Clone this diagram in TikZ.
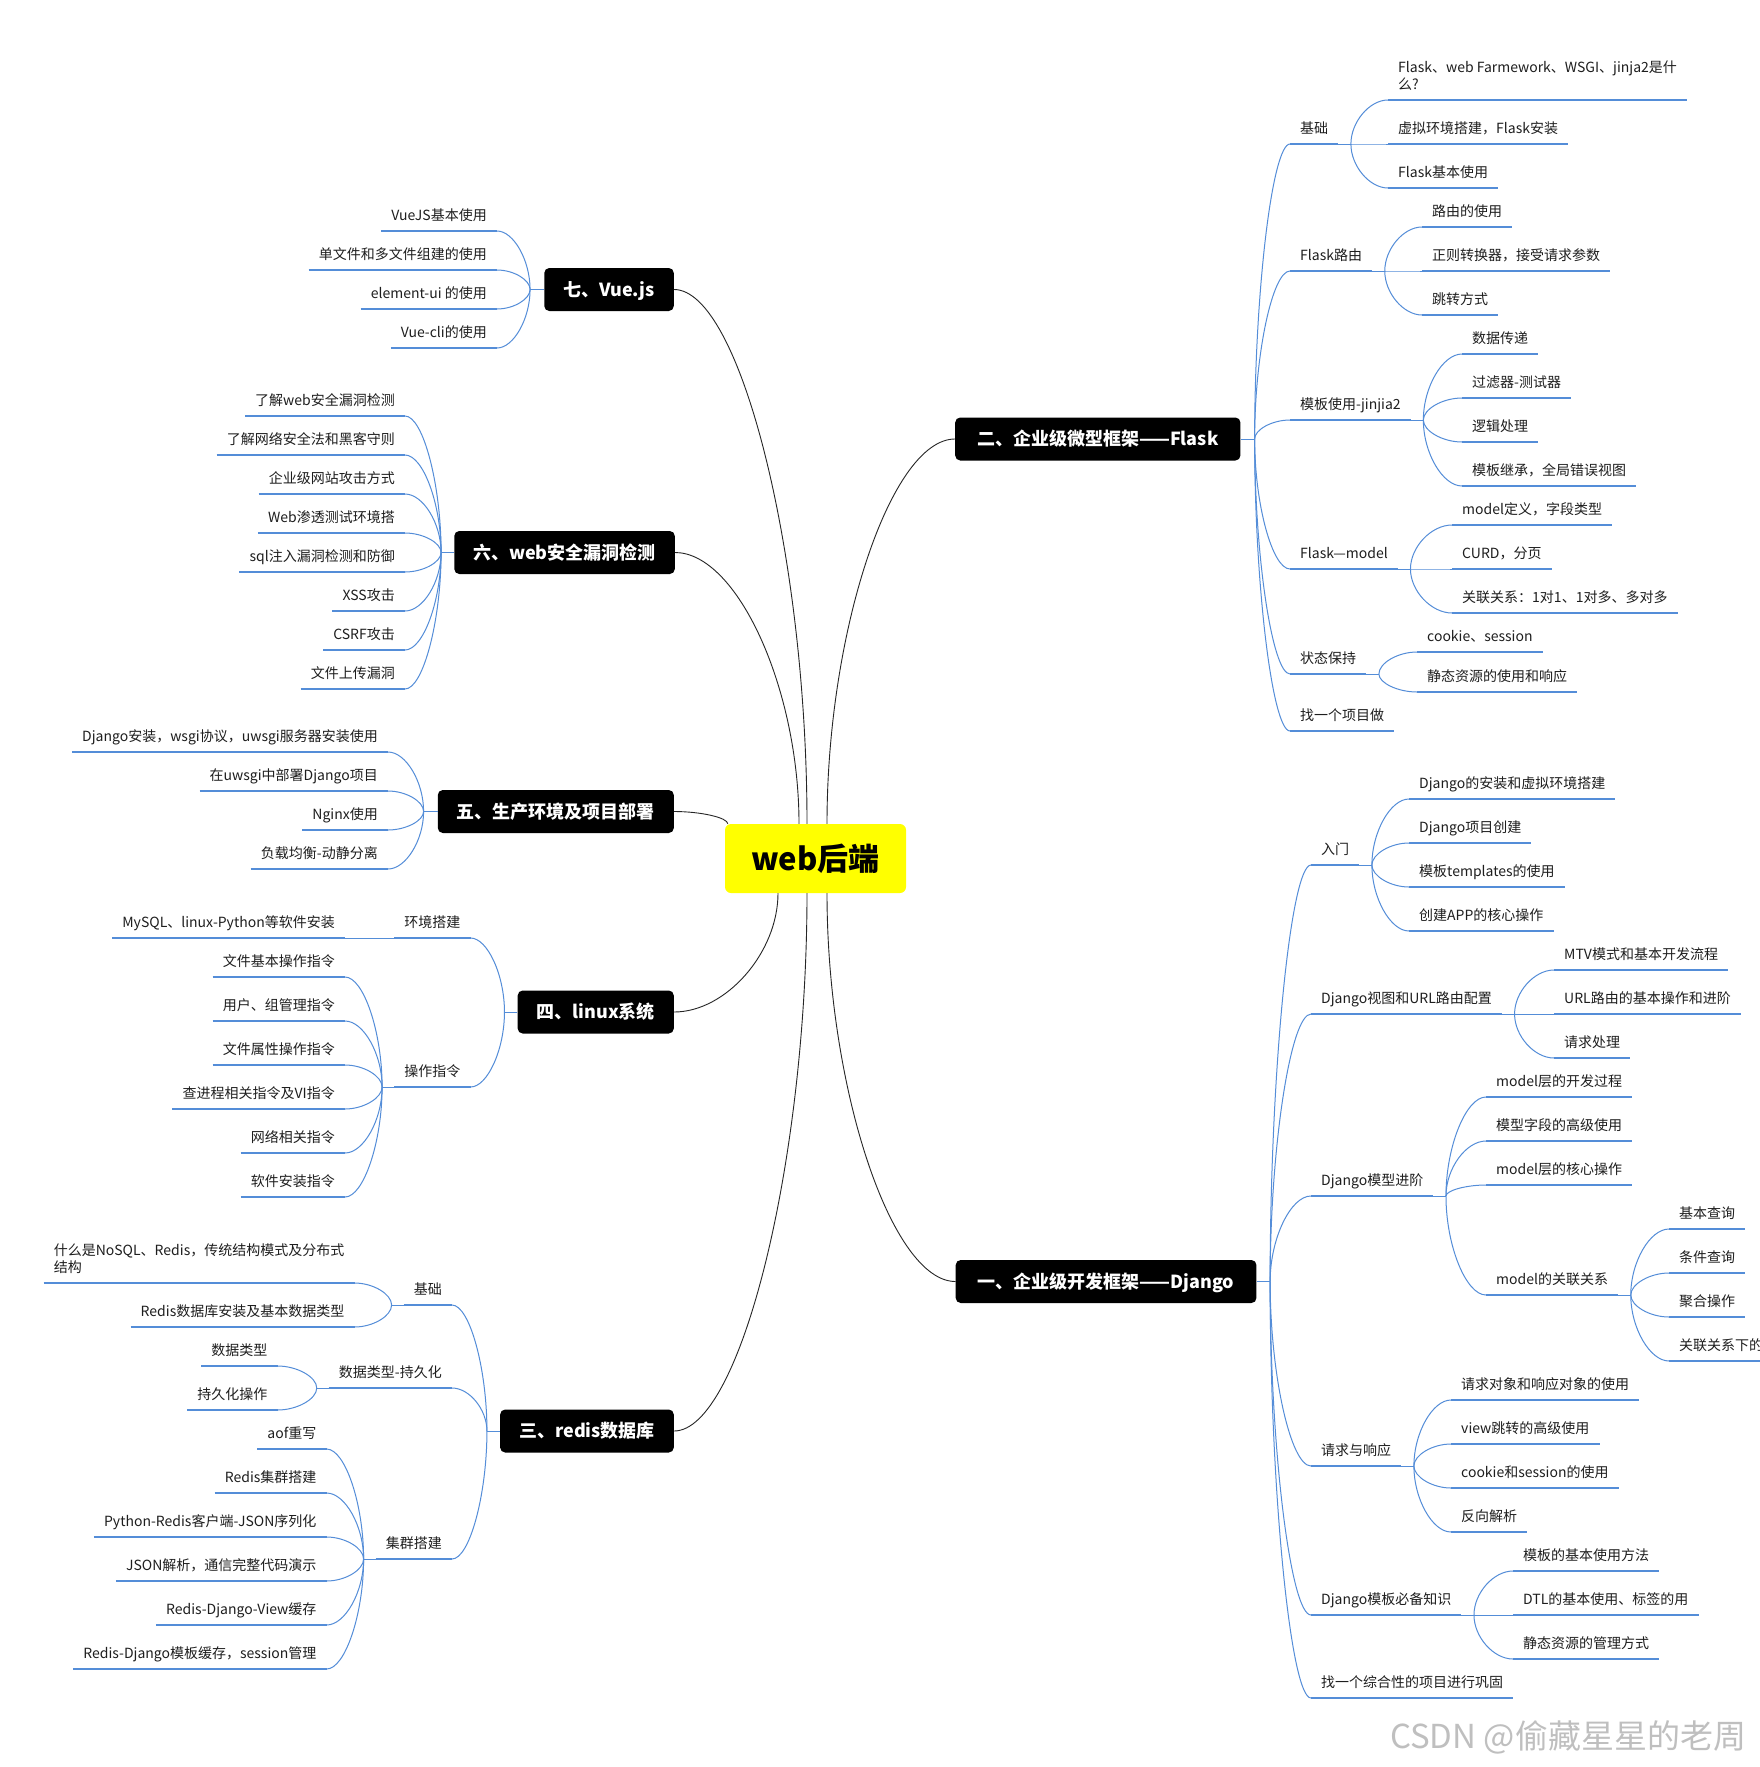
\documentclass[tikz,border=0pt]{standalone}
\usepackage{fontspec}
\setmainfont{Noto Sans CJK SC}
\usetikzlibrary{calc}
\definecolor{linkblue}{RGB}{84,141,216}
\definecolor{hubyellow}{RGB}{255,255,0}
\definecolor{inkgray}{RGB}{30,30,30}

\begin{document}
\begin{tikzpicture}[
    x=1pt, y=-1pt,
    hub/.style={fill=hubyellow, rounded corners=6pt, minimum width=181pt, minimum height=69pt, font=\fontsize{31}{36}\selectfont\bfseries, text height=24pt, text depth=0.5pt},
    main/.style={fill=black, text=white, rounded corners=5pt, minimum height=43pt, inner xsep=19pt, font=\fontsize{18}{21}\selectfont\bfseries, text height=14pt, text depth=0.5pt},
    mainwide/.style={main, inner xsep=22pt},
    uline/.style={draw=linkblue, line width=2.6pt},
    leaf/.style={font=\fontsize{14}{17}\selectfont, text=inkgray, inner xsep=10pt, inner ysep=7.5pt, text height=11pt, text depth=3pt, append after command={(\tikzlastnode.south west) edge[uline] (\tikzlastnode.south east)}},
    leafR/.style={leaf, anchor=south west},
    leafL/.style={leaf, anchor=south east},
    limb/.style={to path={.. controls ($(\tikztostart)!0.5!(\tikztostart|-\tikztotarget)$) and ($(\tikztostart|-\tikztotarget)!0.5!(\tikztotarget)$) .. (\tikztotarget)}},
    twig/.style={draw=linkblue, line width=1pt, limb},
    trunk/.style={draw=black!85, line width=0.9pt, limb},
    wmark/.style={text=black!25, font=\fontsize{33}{38}\selectfont}
]
\path[use as bounding box, fill=white] (0,0) rectangle (1760,1767);

\node[hub] (web) at (815.5,858.5) {web后端};

\node[mainwide, anchor=west] (flask) at (955,439) {二、企业级微型框架——Flask};
\node[mainwide, anchor=west] (django) at (955.5,1281.5) {一、企业级开发框架——Django};
\node[main, anchor=east] (vue) at (674,289.5) {七、Vue.js};
\node[main, anchor=east] (sec) at (675,552.5) {六、web安全漏洞检测};
\node[main, anchor=east] (dep) at (674,811.5) {五、生产环境及项目部署};
\node[main, anchor=east] (lnx) at (674,1012) {四、linux系统};
\node[main, anchor=east] (rds) at (674,1431) {三、redis数据库};

\coordinate (hT1) at ([xshift=11.5pt]web.north);
\coordinate (hT2) at ([xshift=-8.5pt]web.north);
\coordinate (hT3) at ([xshift=-16.5pt]web.north);
\coordinate (hT4) at ([xshift=3pt]web.north west);
\coordinate (hB1) at ([xshift=11.5pt]web.south);
\coordinate (hB2) at ([xshift=-8.5pt]web.south);
\coordinate (hB3) at ([xshift=-37.5pt]web.south);

\draw[trunk] (hT1) to (flask.west);
\draw[trunk] (hB1) to (django.west);
\draw[trunk] (hT2) to (vue.east);
\draw[trunk] (hT3) to (sec.east);
\draw[trunk] (hT4) to (dep.east);
\draw[trunk] (hB3) to (lnx.east);
\draw[trunk] (hB2) to (rds.east);

\coordinate (flT) at ([xshift=14pt]flask.east);
\draw[twig] (flask.east) -- (flT);
\foreach \y/\t [count=\i] in {144/基础, 271/Flask路由, 420/模板使用-jinjia2, 569/Flask—model, 674/状态保持, 731/找一个项目做}
  \node[leafR] (f\i) at (1290,\y) {\t};
\foreach \i in {1,...,6} \draw[twig] (flT) to (f\i.south west);

\node[leafR, align=left] (f11) at (1388,100) {Flask、web Farmework、WSGI、jinja2是什\\么?};
\foreach \y/\t [count=\i from 2] in {144/虚拟环境搭建，Flask安装, 188/Flask基本使用}
  \node[leafR] (f1\i) at (1388,\y) {\t};
\foreach \y/\t [count=\i] in {227/路由的使用, 271/正则转换器，接受请求参数, 315/跳转方式}
  \node[leafR] (f2\i) at (1422,\y) {\t};
\foreach \y/\t [count=\i] in {354/数据传递, 398/过滤器-测试器, 442/逻辑处理, 486/模板继承，全局错误视图}
  \node[leafR] (f3\i) at (1462,\y) {\t};
\foreach \y/\t [count=\i] in {525/model定义，字段类型, 569/CURD，分页, 613/关联关系：1对1、1对多、多对多}
  \node[leafR] (f4\i) at (1452,\y) {\t};
\foreach \y/\t [count=\i] in {652/cookie、session, 692/静态资源的使用和响应}
  \node[leafR] (f5\i) at (1417,\y) {\t};

\foreach \g/\n in {1/3, 2/3, 3/4, 4/3, 5/2} {
  \coordinate (f\g T) at ([xshift=12.5pt]f\g.south east);
  \draw[twig] (f\g.south east) -- (f\g T);
  \foreach \i in {1,...,\n} \draw[twig] (f\g T) to (f\g\i.south west);
}

\coordinate (djT) at ([xshift=13.5pt]django.east);
\draw[twig] (django.east) -- (djT);
\foreach \y/\t [count=\i] in {865/入门, 1014/Django视图和URL路由配置, 1196/Django模型进阶, 1466/请求与响应, 1615/Django模板必备知识, 1698/找一个综合性的项目进行巩固}
  \node[leafR] (d\i) at (1311,\y) {\t};
\foreach \i in {1,...,6} \draw[twig] (djT) to (d\i.south west);

\foreach \y/\t [count=\i] in {799/Django的安装和虚拟环境搭建, 843/Django项目创建, 887/模板templates的使用, 931/创建APP的核心操作}
  \node[leafR] (d1\i) at (1409,\y) {\t};
\foreach \y/\t [count=\i] in {970/MTV模式和基本开发流程, 1014/URL路由的基本操作和进阶, 1058/请求处理}
  \node[leafR] (d2\i) at (1554,\y) {\t};
\foreach \y/\t [count=\i] in {1097/model层的开发过程, 1141/模型字段的高级使用, 1185/model层的核心操作, 1295/model的关联关系}
  \node[leafR] (d3\i) at (1486,\y) {\t};
\foreach \y/\t [count=\i] in {1229/基本查询, 1273/条件查询, 1317/聚合操作, 1361/关联关系下的}
  \node[leafR] (d34\i) at (1669,\y) {\t};
\foreach \y/\t [count=\i] in {1400/请求对象和响应对象的使用, 1444/view跳转的高级使用, 1488/cookie和session的使用, 1532/反向解析}
  \node[leafR] (d4\i) at (1451,\y) {\t};
\foreach \y/\t [count=\i] in {1571/模板的基本使用方法, 1615/DTL的基本使用、标签的用, 1659/静态资源的管理方式}
  \node[leafR] (d5\i) at (1513,\y) {\t};

\foreach \g/\n in {1/4, 2/3, 3/4, 34/4, 4/4, 5/3} {
  \coordinate (d\g T) at ([xshift=12.5pt]d\g.south east);
  \draw[twig] (d\g.south east) -- (d\g T);
  \foreach \i in {1,...,\n} \draw[twig] (d\g T) to (d\g\i.south west);
}

\coordinate (vuT) at ([xshift=-14pt]vue.west);
\draw[twig] (vue.west) -- (vuT);
\foreach \y/\t [count=\i] in {231/VueJS基本使用, 270/单文件和多文件组建的使用, 309/element-ui 的使用, 348/Vue-cli的使用}
  \node[leafL] (v\i) at (497,\y) {\t};
\foreach \i in {1,...,4} \draw[twig] (vuT) to (v\i.south east);

\coordinate (seT) at ([xshift=-13pt]sec.west);
\draw[twig] (sec.west) -- (seT);
\foreach \y/\t [count=\i] in {416/了解web安全漏洞检测, 455/了解网络安全法和黑客守则, 494/企业级网站攻击方式, 533/Web渗透测试环境搭, 572/sql注入漏洞检测和防御, 611/XSS攻击, 650/CSRF攻击, 689/文件上传漏洞}
  \node[leafL] (s\i) at (405,\y) {\t};
\foreach \i in {1,...,8} \draw[twig] (seT) to (s\i.south east);

\coordinate (deT) at ([xshift=-14pt]dep.west);
\draw[twig] (dep.west) -- (deT);
\foreach \y/\t [count=\i] in {752/Django安装，wsgi协议，uwsgi服务器安装使用, 791/在uwsgi中部署Django项目, 830/Nginx使用, 869/负载均衡-动静分离}
  \node[leafL] (p\i) at (388,\y) {\t};
\foreach \i in {1,...,4} \draw[twig] (deT) to (p\i.south east);

\coordinate (lxT) at ([xshift=-13pt]lnx.west);
\draw[twig] (lnx.west) -- (lxT);
\node[leafL] (l1) at (470.5,938) {环境搭建};
\node[leafL] (l2) at (470.5,1087) {操作指令};
\foreach \i in {1,2} \draw[twig] (lxT) to (l\i.south east);
\node[leafL] (l11) at (345,938) {MySQL、linux-Python等软件安装};
\foreach \y/\t [count=\i] in {977/文件基本操作指令, 1021/用户、组管理指令, 1065/文件属性操作指令, 1109/查进程相关指令及VI指令, 1153/网络相关指令, 1197/软件安装指令}
  \node[leafL] (l2\i) at (345,\y) {\t};

\coordinate (rdT) at ([xshift=-13pt]rds.west);
\draw[twig] (rds.west) -- (rdT);
\foreach \y/\t [count=\i] in {1305/基础, 1388/数据类型-持久化, 1559/集群搭建}
  \node[leafL] (r\i) at (452,\y) {\t};
\foreach \i in {1,2,3} \draw[twig] (rdT) to (r\i.south east);
\node[leafL, align=left] (r11) at (354.5,1283) {什么是NoSQL、Redis，传统结构模式及分布式\\结构};
\node[leafL] (r12) at (354.5,1327) {Redis数据库安装及基本数据类型};
\foreach \y/\t [count=\i] in {1366/数据类型, 1410/持久化操作}
  \node[leafL] (r2\i) at (277.6,\y) {\t};
\foreach \y/\t [count=\i] in {1449/aof重写, 1493/Redis集群搭建, 1537/Python-Redis客户端-JSON序列化, 1581/JSON解析，通信完整代码演示, 1625/Redis-Django-View缓存, 1669/Redis-Django模板缓存，session管理}
  \node[leafL] (r3\i) at (326.6,\y) {\t};

\foreach \g/\n in {l1/1, l2/6, r1/2, r2/2, r3/6} {
  \coordinate (\g T) at ([xshift=-12pt]\g.south west);
  \draw[twig] (\g.south west) -- (\g T);
  \foreach \i in {1,...,\n} \draw[twig] (\g T) to (\g\i.south east);
}

\node[wmark] (csdn) at (1568,1737) {CSDN @偷藏星星的老周};
\end{tikzpicture}
\end{document}
